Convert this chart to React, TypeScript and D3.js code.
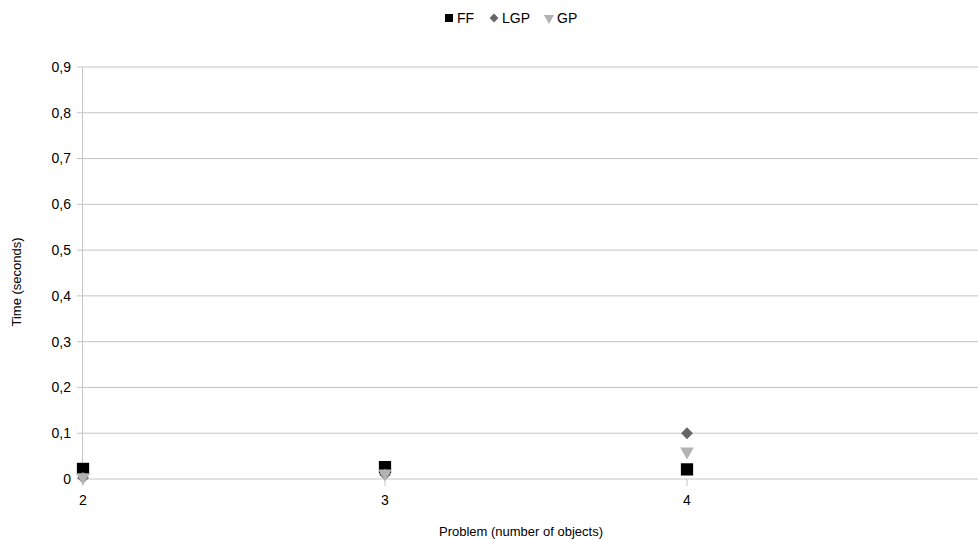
import React from "react";
import * as d3 from "d3";

const categories = [2, 3, 4];
const ffValues = [0.022, 0.026, 0.021];
const lgpValues = [0.003, 0.01, 0.1];
const gpValues = [0.004, 0.012, 0.06];
const yTicks = [0, 0.1, 0.2, 0.3, 0.4, 0.5, 0.6, 0.7, 0.8, 0.9];
const seriesNames = ["FF", "LGP", "GP"];

const W = 978;
const H = 539;

export default function App() {
  const x = d3.scaleLinear().domain([2, 5]).range([83, 989]);
  const y = d3.scaleLinear().domain([0, 0.9]).range([479, 67]);
  const fmt = (v: number) => (v === 0 ? "0" : d3.format(".1f")(v).replace(".", ","));
  const font = "'Liberation Sans', Arial, sans-serif";
  const sq = d3.symbol().type(d3.symbolSquare).size(150)() as string;
  const dia = d3.symbol().type(d3.symbolDiamond2 || d3.symbolDiamond).size(90)() as string;
  const tri = d3.symbol().type(d3.symbolTriangle).size(80)() as string;
  const series = [
    { name: seriesNames[0], values: ffValues, path: sq, color: "#000000" },
    { name: seriesNames[1], values: lgpValues, path: dia, color: "#666666" },
    { name: seriesNames[2], values: gpValues, path: tri, color: "#b3b3b3", flip: true },
  ];
  const legendSq = d3.symbol().type(d3.symbolSquare).size(64)() as string;
  const legendDia = d3.symbol().type(d3.symbolDiamond2 || d3.symbolDiamond).size(50)() as string;
  const legendTri = d3.symbol().type(d3.symbolTriangle).size(45)() as string;
  const legendItems = [
    { name: seriesNames[0], path: legendSq, color: "#000000", x: 449 },
    { name: seriesNames[1], path: legendDia, color: "#666666", x: 494 },
    { name: seriesNames[2], path: legendTri, color: "#b3b3b3", flip: true, x: 549 },
  ];
  return (
    <svg width={W} height={H} style={{ position: "absolute", left: 0, top: 0, background: "#fff" }} fontFamily={font}>
      {yTicks.map((t) => (
        <g key={t}>
          <line x1={77} x2={W} y1={y(t)} y2={y(t)} stroke="#c4c4c4" strokeWidth={1} />
          <text x={71} y={y(t)} dy="0.35em" textAnchor="end" fontSize={14} fill="#000">{fmt(t)}</text>
        </g>
      ))}
      <line x1={82.5} x2={82.5} y1={y(0.9)} y2={y(0)} stroke="#c4c4c4" />
      {categories.map((c) => (
        <g key={c}>
          <line x1={x(c)} x2={x(c)} y1={479} y2={486} stroke="#c4c4c4" />
          <text x={x(c)} y={505} textAnchor="middle" fontSize={14} fill="#000">{c}</text>
        </g>
      ))}
      {series.map((s) =>
        s.values.map((v, i) => (
          <path
            key={s.name + i}
            d={s.path}
            fill={s.color}
            transform={`translate(${x(categories[i])},${y(v)})${s.flip ? " rotate(180)" : ""}`}
          />
        ))
      )}
      {legendItems.map((l) => (
        <g key={l.name}>
          <path d={l.path} fill={l.color} transform={`translate(${l.x},${18})${l.flip ? " rotate(180)" : ""}`} />
          <text x={l.x + 8} y={18} dy="0.35em" fontSize={14} fill="#000">{l.name}</text>
        </g>
      ))}
      <text x={521} y={536} textAnchor="middle" fontSize={13} fill="#000">Problem (number of objects)</text>
      <text transform={`translate(21,282) rotate(-90)`} textAnchor="middle" fontSize={13} fill="#000">Time (seconds)</text>
    </svg>
  );
}
